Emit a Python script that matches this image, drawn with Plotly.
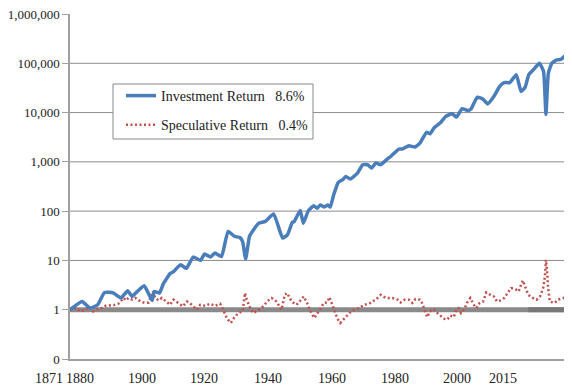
import plotly.graph_objects as go

# ---- data ----
inv_years = [1871, 1874.5, 1876.8, 1879, 1881, 1883.5, 1885.8, 1887.7, 1889, 1890.2,
             1892.5, 1894.8, 1895.4, 1896.9, 1898, 1900, 1901, 1903, 1904.7, 1906.7,
             1908.8, 1910, 1911.7, 1913, 1914.9, 1916.8, 1918.7, 1920.2, 1921, 1921.9,
             1923, 1924, 1925.7, 1927.6, 1930, 1932.6, 1934, 1935.4, 1936, 1937.7,
             1938.6, 1940, 1941.6, 1942.6, 1943.5, 1944.7, 1945.7, 1946.4, 1947.4, 1948.7,
             1950, 1950.9, 1952.2, 1954.3, 1955.8, 1957.2, 1958.4, 1959.6, 1961, 1963,
             1964, 1966.3, 1967.3, 1969.2, 1970.9, 1972.4, 1974.3, 1975.3, 1976.5, 1978.4,
             1979.8, 1981.7, 1983, 1984.6, 1986.2, 1987.2, 1989, 1990.7, 1992, 1993.8,
             1995.5, 1996.8, 1998.4, 2000.3, 2001.7, 2002.9, 2003.9, 2005.5, 2007, 2008.2,
             2008.9, 2009.6, 2010.6, 2012, 2013.2, 2014.8]
inv_values = [1.0, 1.47, 1.08, 1.26, 2.24, 2.2, 1.73, 2.43, 1.86, 2.24,
              3.07, 1.54, 2.35, 2.18, 3.3, 5.4, 5.9, 8.2, 6.9, 11.7,
              10, 13.5, 11.7, 14.1, 12, 38.7, 30.7, 29.3, 24.3, 10.7,
              30.7, 40, 57, 62, 88, 28.5, 33, 59, 62, 103,
              57, 100, 129, 115, 134, 121, 134, 121, 215, 380,
              435, 506, 447, 590, 875, 875, 750, 950, 875, 1150,
              1300, 1820, 1820, 2130, 2000, 2400, 3980, 3720, 4880, 6300,
              8300, 9500, 8100, 12000, 11000, 11800, 20500, 18700, 15000, 21200,
              34000, 40600, 40600, 58400, 26800, 33000, 58400, 77000, 100000, 68500,
              9100, 63000, 100000, 117000, 120000, 148000]

spec_years = [1871, 1873, 1874, 1875.5, 1876.5, 1877.7, 1878.9, 1880.3, 1881.3, 1883.7,
              1885, 1886.6, 1887.1, 1888, 1889, 1890, 1891.4, 1892.8, 1893.8, 1894.5,
              1895, 1895.7, 1896.7, 1897.6, 1899, 1900, 1901, 1902.5, 1903.7, 1904.9,
              1906.3, 1907.7, 1908.7, 1910.2, 1911.6, 1913, 1914.5, 1915.4, 1916.4, 1917.6,
              1918.5, 1919.8, 1921, 1921.7, 1922.2, 1923, 1924, 1925.5, 1927, 1928.1,
              1929.4, 1930.8, 1932.3, 1933.2, 1933.9, 1935.2, 1936.6, 1938, 1938.7, 1939.7,
              1940.4, 1941.8, 1942.8, 1943.7, 1944.5, 1945.5, 1946.2, 1946.8, 1947.6, 1948.5,
              1949.3, 1950.3, 1951.2, 1952.4, 1953.5, 1954.8, 1956.2, 1957.7, 1958.6, 1959.6,
              1961, 1962.5, 1964.4, 1965.9, 1966.8, 1968, 1969.2, 1970.2, 1971.1, 1972.4,
              1973, 1973.7, 1974.5, 1975.3, 1976.4, 1977.4, 1978.4, 1979.5, 1980.3, 1981.2,
              1982.2, 1983, 1983.6, 1984.3, 1985.3, 1986, 1987, 1987.8, 1988.7, 1989.7,
              1990.7, 1991.6, 1992.8, 1993.8, 1994.7, 1995.7, 1996.8, 1997.8, 1998.8, 2000,
              2001, 2001.6, 2002.2, 2002.9, 2003.8, 2005.1, 2006.2, 2007.2, 2008.1, 2008.6,
              2008.9, 2009.2, 2009.5, 2010, 2011.4, 2012.4, 2013.8, 2014.8]
spec_values = [1.0, 1.08, 0.92, 1.0, 1.13, 0.92, 1.03, 1.08, 1.2, 1.24,
               1.32, 1.73, 1.54, 1.73, 1.6, 1.73, 1.47, 1.37, 1.4, 1.86,
               2.35, 1.73, 1.54, 1.73, 1.47, 1.26, 1.6, 1.32, 1.17, 1.47,
               1.26, 1.0, 1.26, 1.2, 1.32, 1.2, 1.32, 1.0, 0.68, 0.54,
               0.68, 0.86, 0.92, 2.18, 1.6, 1.17, 0.86, 0.97, 1.17, 1.47,
               1.73, 1.47, 1.0, 2.0, 2.18, 1.47, 1.26, 1.6, 1.86, 1.37,
               1.0, 0.68, 0.86, 1.08, 1.37, 1.4, 1.8, 1.4, 0.92, 0.65,
               0.54, 0.65, 0.76, 0.92, 1.0, 1.08, 1.26, 1.32, 1.47, 1.6,
               2.0, 1.73, 1.73, 1.6, 1.4, 1.6, 1.6, 1.37, 1.65, 1.6,
               1.37, 1.0, 0.71, 0.92, 1.03, 0.86, 0.76, 0.65, 0.63, 0.76,
               0.71, 1.03, 1.08, 0.86, 1.03, 1.37, 1.73, 1.32, 1.08, 1.37,
               1.47, 2.24, 2.0, 1.86, 1.47, 1.54, 1.73, 2.18, 2.75, 2.63,
               2.35, 3.07, 3.93, 2.88, 2.0, 1.73, 1.6, 1.86, 2.75, 4.73,
               10.3, 6.5, 2.97, 1.47, 1.37, 1.6, 1.73, 1.8]

base_years = [1871, 2015]
base_values = [1, 1]
base_dark_years = [2003.8, 2015]
base_dark_values = [1, 1]

y_tick_vals = [0.1, 1, 10, 100, 1000, 10000, 100000, 1000000]
y_tick_text = ["0", "1", "10", "100", "1,000", "10,000", "100,000", "1,000,000"]
grid_vals = [10, 100, 1000, 10000, 100000]

x_labels = ["1871", "1880", "1900", "1920", "1940", "1960", "1980", "2000", "2015"]
x_label_px = [49, 80, 142, 204, 268, 332, 395, 457, 503]

inv_name = "Investment Return\u00a0\u00a0\u00a08.6%"
spec_name = "Speculative Return\u00a0\u00a0\u00a00.4%"

# ---- geometry (page body has an 8px margin, so the figure is 8px smaller) ----
OFF = 8
W, H = 572 - OFF, 391 - OFF
PL, PT = 70, 14           # plot-area left/top in page pixels
PW, PH = 497, 345         # plot-area size
ML, MT = PL - OFF, PT - OFF
MR = W - ML - PW
MB = H - MT - PH
font = "Liberation Serif"


def px_x(p):
    return (p - PL) / PW


def px_y(p):
    return 1 - (p - PT) / PH


fig = go.Figure()
fig.add_trace(go.Scatter(x=base_years, y=base_values, mode="lines",
                         line=dict(color="#8a8a8a", width=5), showlegend=False,
                         hoverinfo="skip"))
fig.add_trace(go.Scatter(x=base_dark_years, y=base_dark_values, mode="lines",
                         line=dict(color="#777777", width=5), showlegend=False,
                         hoverinfo="skip"))
fig.add_trace(go.Scatter(x=spec_years, y=spec_values, mode="lines", name=spec_name,
                         line=dict(color="#c0504d", width=2.5, dash="2px,2.5px"),
                         legendgroup="b", legendrank=2))
fig.add_trace(go.Scatter(x=inv_years, y=inv_values, mode="lines", name=inv_name,
                         line=dict(color="#4a7ebb", width=3.5, shape="spline", smoothing=0.4),
                         legendgroup="a", legendrank=1))

shapes = []
for g in grid_vals:
    shapes.append(dict(type="line", xref="paper", yref="y", x0=0, x1=1, y0=g, y1=g,
                       line=dict(color="#8c8c8c", width=1), layer="below"))
# legend frame
shapes.append(dict(type="rect", xref="paper", yref="paper",
                   x0=px_x(113), x1=px_x(313), y0=px_y(139), y1=px_y(84),
                   line=dict(color="#888888", width=1), fillcolor="white", layer="above"))

annotations = []
for lab, p in zip(x_labels, x_label_px):
    annotations.append(dict(text=lab, xref="paper", yref="paper",
                            x=px_x(p), y=-10 / PH, xanchor="center", yanchor="top",
                            showarrow=False, font=dict(family=font, size=14, color="#222")))

fig.update_layout(
    width=W, height=H,
    margin=dict(l=ML, r=MR, t=MT, b=MB, autoexpand=False),
    paper_bgcolor="white", plot_bgcolor="white",
    font=dict(family=font, size=14, color="#222"),
    shapes=shapes, annotations=annotations,
    legend=dict(x=px_x(121), y=px_y(80), xanchor="left", yanchor="top",
                bgcolor="rgba(0,0,0,0)", borderwidth=0,
                font=dict(family=font, size=14, color="#222"),
                traceorder="grouped", tracegroupgap=8),
    xaxis=dict(type="linear", range=[1871, 2015], showgrid=False, zeroline=False,
               showticklabels=False, ticks="", showline=True, linecolor="#a0a0a0",
               linewidth=1.5, automargin=False),
    yaxis=dict(type="log", range=[-1, 6], tickvals=y_tick_vals, ticktext=y_tick_text,
               showgrid=False, zeroline=False, ticks="outside", ticklen=6,
               tickcolor="#a0a0a0", showline=True, linecolor="#a0a0a0", linewidth=1.5,
               automargin=False, ticklabeloverflow="allow",
               tickfont=dict(family=font, size=13, color="#222")),
)

fig.write_html("out.html")
